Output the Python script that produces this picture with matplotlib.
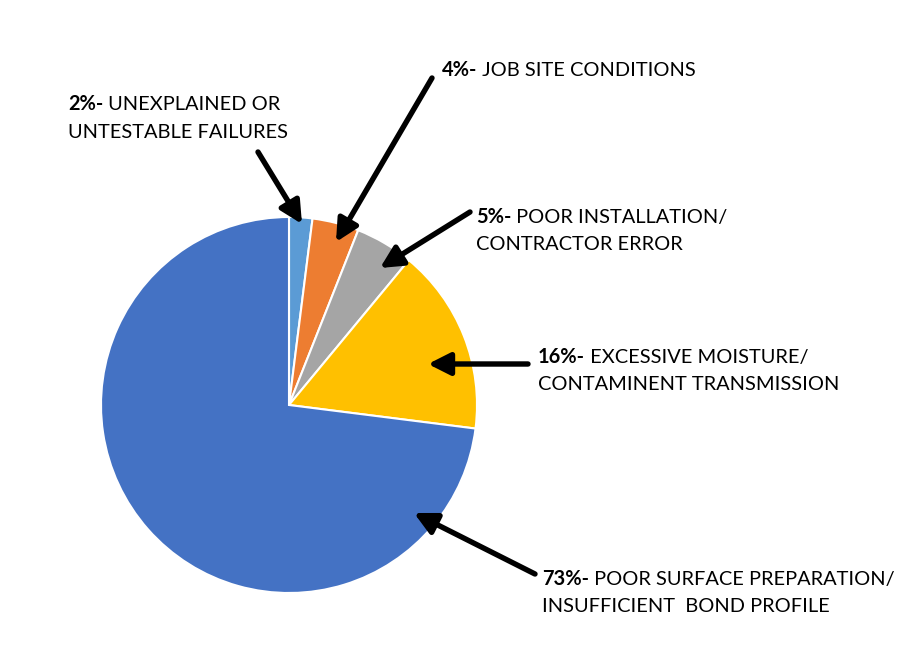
import matplotlib.pyplot as plt

# Slice data, clockwise from the top
percents = [2, 4, 5, 16, 73]
pct_labels = ["2%-", "4%-", "5%-", "16%-", "73%-"]
line1 = [" UNEXPLAINED OR", " JOB SITE CONDITIONS", " POOR INSTALLATION/",
         " EXCESSIVE MOISTURE/", " POOR SURFACE PREPARATION/"]
line2 = ["UNTESTABLE FAILURES", "", "CONTRACTOR ERROR",
         "CONTAMINENT TRANSMISSION", "INSUFFICIENT  BOND PROFILE"]
colors = ["#5B9BD5", "#ED7D31", "#A5A5A5", "#FFC000", "#4472C4"]

# label positions (pixels) and arrow tail/head (pixels)
text_pos = [(68, 104), (442, 70), (476, 217), (538, 357), (542, 579)]
arrow_tail = [(258, 152), (432, 78), (470, 212), (528, 364), (535, 574)]
arrow_head = [(302, 224), (336, 242), (380, 268), (428, 364), (414, 513)]

plt.rcParams['font.family'] = ['Lato', 'DejaVu Sans']
fs = 14.4

fig = plt.figure(figsize=(9.12, 6.56), dpi=100)
ax = fig.add_axes([0, 0, 1, 1])

# y axis is inverted, so start at -90 and go counterclockwise in data space
ax.pie(percents, colors=colors, startangle=-90, counterclock=True,
       center=(289, 405), radius=188, frame=True,
       wedgeprops=dict(edgecolor='white', linewidth=1.5))
ax.set_xlim(0, 912)
ax.set_ylim(656, 0)
ax.set_aspect('equal')
ax.axis('off')

for tail, head in zip(arrow_tail, arrow_head):
    ax.annotate('', xy=head, xytext=tail,
                arrowprops=dict(arrowstyle='-|>,head_length=0.95,head_width=0.48',
                                lw=3.9, color='black', mutation_scale=14,
                                shrinkA=0, shrinkB=0))

fig.canvas.draw()
renderer = fig.canvas.get_renderer()
for (x, y), p, l1, l2 in zip(text_pos, pct_labels, line1, line2):
    t = ax.text(x, y, p, fontsize=fs, fontweight='bold', va='center', ha='left')
    bb = t.get_window_extent(renderer).transformed(ax.transData.inverted())
    ax.text(bb.x1, y, l1, fontsize=fs, va='center', ha='left')
    if l2:
        ax.text(x, y + 28, l2, fontsize=fs, va='center', ha='left')

fig.savefig("out.png", dpi=100)
